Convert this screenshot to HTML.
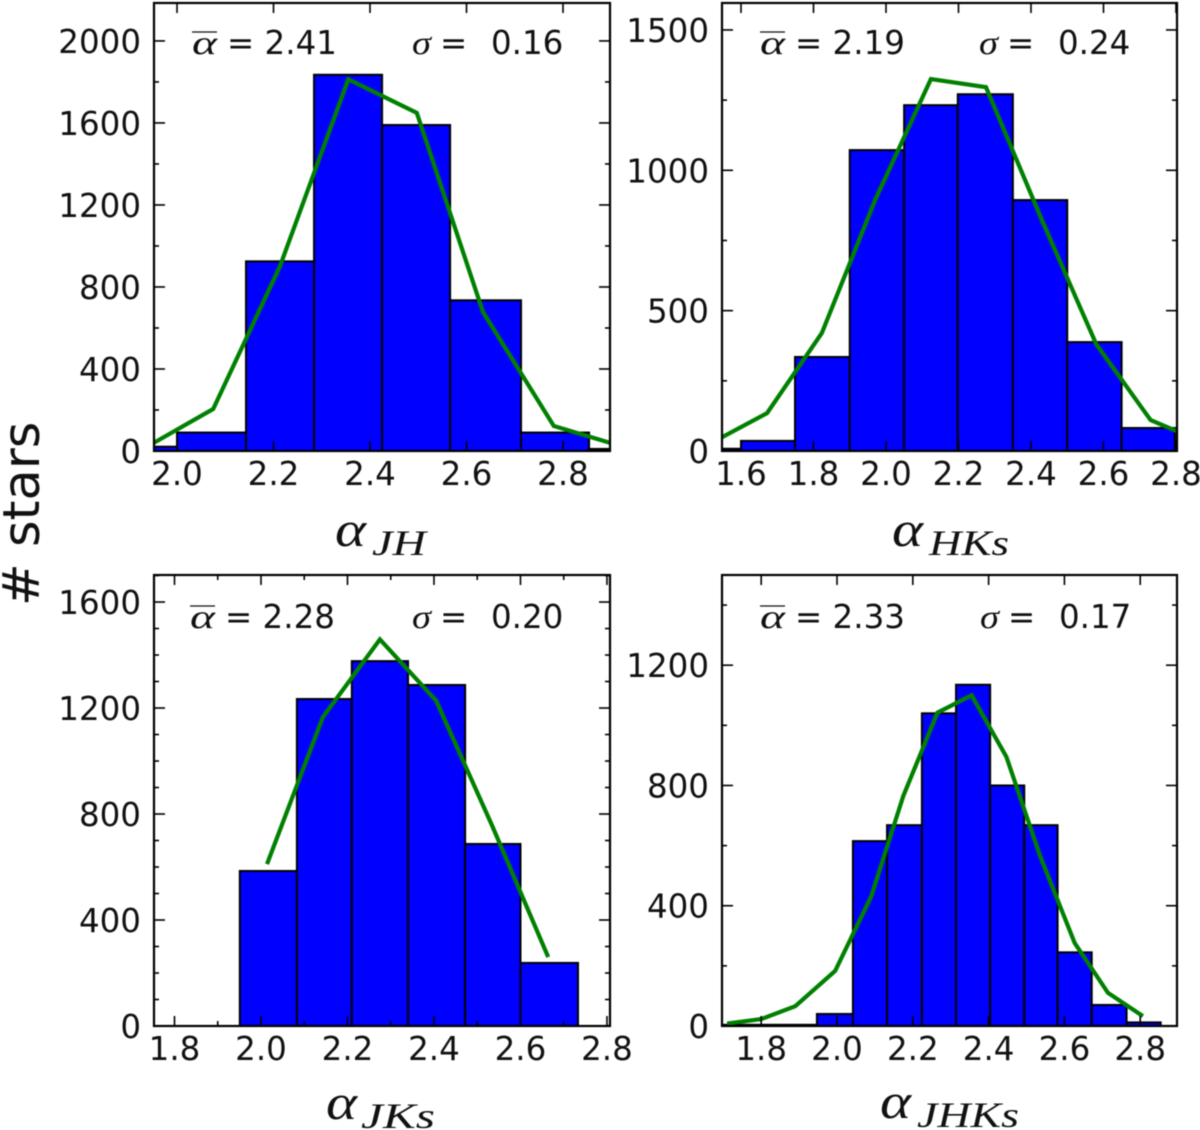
<!DOCTYPE html>
<html lang="en">
<head>
<meta charset="utf-8">
<title>Histograms of alpha by colour index</title>
<style>
html,body{margin:0;padding:0;background:#fff;}
body{width:1200px;height:1130px;overflow:hidden;}
svg{display:block;filter:blur(0.55px);}
text{font-family:"DejaVu Sans","Liberation Sans",sans-serif;fill:#111;}
.serif{font-family:"Liberation Serif","DejaVu Serif",serif;font-style:italic;}
</style>
</head>
<body>
<svg id="chart" xmlns="http://www.w3.org/2000/svg" width="1200" height="1130" viewBox="0 0 1200 1130">
  <text transform="translate(39,606) rotate(-90)" font-size="51">#&#160;stars</text>
</svg>
<script>
// ---- Panel JH ----
const jhEdges = [1.857, 2.0, 2.143, 2.284, 2.425, 2.566, 2.713, 2.854, 2.99];
const jhCounts = [21, 90, 925, 1835, 1590, 735, 90, 10];
const jhFitX = [1.93, 2.075, 2.213, 2.355, 2.497, 2.634, 2.781, 2.926];
const jhFitY = [10, 205, 899, 1813, 1649, 679, 122, 20];
const jhXTicks = ['2.0', '2.2', '2.4', '2.6', '2.8'];
const jhYTicks = [0, 400, 800, 1200, 1600, 2000];
// ---- Panel HKs ----
const hkEdges = [1.46, 1.6, 1.749, 1.9, 2.05, 2.198, 2.35, 2.5, 2.65, 2.797];
const hkCounts = [8, 36, 335, 1072, 1232, 1271, 894, 388, 82];
const hkFitX = [1.52, 1.672, 1.823, 1.97, 2.124, 2.276, 2.43, 2.58, 2.73, 2.88];
const hkFitY = [30, 135, 420, 894, 1325, 1296, 823, 381, 110, 28];
const hkXTicks = ['1.6', '1.8', '2.0', '2.2', '2.4', '2.6', '2.8'];
const hkYTicks = [0, 500, 1000, 1500];
// ---- Panel JKs ----
const jkEdges = [1.951, 2.083, 2.21, 2.34, 2.472, 2.6, 2.733];
const jkCounts = [585, 1234, 1377, 1287, 687, 238];
const jkFitX = [2.014, 2.143, 2.275, 2.405, 2.534, 2.664];
const jkFitY = [611, 1165, 1459, 1228, 758, 260];
const jkXTicks = ['1.8', '2.0', '2.2', '2.4', '2.6', '2.8'];
const jkYTicks = [0, 400, 800, 1200, 1600];
// ---- Panel JHKs ----
const jhkEdges = [1.69, 1.947, 2.042, 2.132, 2.224, 2.314, 2.404, 2.494, 2.582, 2.672, 2.764, 2.854];
const jhkCounts = [4, 40, 615, 668, 1040, 1135, 800, 668, 245, 70, 12];
const jhkFitX = [1.71, 1.8, 1.89, 1.995, 2.09, 2.175, 2.265, 2.355, 2.447, 2.537, 2.627, 2.715, 2.807];
const jhkFitY = [8, 23, 66, 183, 430, 765, 1042, 1100, 895, 562, 276, 110, 33];
const jhkXTicks = ['1.8', '2.0', '2.2', '2.4', '2.6', '2.8'];
const jhkYTicks = [0, 400, 800, 1200];

const NS = 'http://www.w3.org/2000/svg';
const svg = document.getElementById('chart');
const LABEL_SIZE = 32.5;

function mk(tag, attrs, parent) {
  const el = document.createElementNS(NS, tag);
  for (const k in attrs) el.setAttribute(k, attrs[k]);
  parent.appendChild(el);
  return el;
}

function drawPanel(p) {
  const sx = v => p.left + (v - p.xMin) / (p.xMax - p.xMin) * (p.right - p.left);
  const sy = v => p.bottom - v / p.yMax * (p.bottom - p.top);

  const g = mk('g', {}, svg);
  
  

  const clip = mk('clipPath', { id: 'clip-' + p.id }, g);
  mk('rect', { x: p.left, y: p.top, width: p.right - p.left, height: p.bottom - p.top }, clip);

  const plot = mk('g', { 'clip-path': 'url(#clip-' + p.id + ')' }, g);

  p.counts.forEach((c, i) => {
    const x0 = sx(p.edges[i]);
    const x1 = sx(p.edges[i + 1]);
    const y = sy(c);
    const bar = mk('rect', { x: x0, y: y, width: x1 - x0, height: p.bottom - y, fill: '#0000ff', stroke: '#000', 'stroke-width': 2 }, plot);
    
    
  });

  // ticks, drawn inward on all four sides
  const tick = (x1, y1, x2, y2, name) => {
    const t = mk('line', { x1: x1, y1: y1, x2: x2, y2: y2, stroke: '#000', 'stroke-width': 1.6 }, g);
    
    
  };
  const yStep = p.yTicks[1] - p.yTicks[0];
  for (let v = 0; v < p.yMax; v += p.yMinor) {
    const y = sy(v);
    const len = (v % yStep === 0) ? 11 : 5;
    tick(p.left, y, p.left + len, y, 'y-tick-left-' + p.id);
    tick(p.right, y, p.right - len, y, 'y-tick-right-' + p.id);
  }
  const xFirst = parseFloat(p.xTicks[0]);
  for (let k = 0; k < p.xTicks.length * (p.xMinor ? 2 : 1); k++) {
    const v = xFirst + k * (p.xMinor ? 0.1 : 0.2);
    if (v > p.xMax + 1e-6) break;
    const x = sx(v);
    const len = (p.xMinor && k % 2 === 1) ? 5 : 10;
    tick(x, p.bottom, x, p.bottom - len, 'x-tick-bottom-' + p.id);
    tick(x, p.top, x, p.top + len, 'x-tick-top-' + p.id);
  }

  const pts = p.fitX.map((x, i) => sx(x).toFixed(1) + ',' + sy(p.fitY[i]).toFixed(1)).join(' ');
  const fit = mk('polyline', { points: pts, fill: 'none', stroke: '#008000', 'stroke-width': 4.2, 'stroke-linejoin': 'miter' }, plot);
  
  

  const frame = mk('rect', { x: p.left, y: p.top, width: p.right - p.left, height: p.bottom - p.top, fill: 'none', stroke: '#000', 'stroke-width': 2.2 }, g);
  
  

  // tick labels
  p.xTicks.forEach(label => {
    const t = mk('text', { x: sx(parseFloat(label)), y: p.bottom + 34, 'font-size': LABEL_SIZE, 'text-anchor': 'middle' }, g);
    t.textContent = label;
    
    
  });
  p.yTicks.forEach(v => {
    const t = mk('text', { x: p.left - 13, y: sy(v) + 12, 'font-size': LABEL_SIZE, 'text-anchor': 'end' }, g);
    t.textContent = String(v);
    
    
  });

  // annotations
  const base = p.top + p.noteY;
  const aSym = mk('text', { x: p.noteA, y: base, 'font-size': 34, class: 'serif', textLength: 25, lengthAdjust: 'spacingAndGlyphs' }, g);
  aSym.textContent = 'α';
  
  
  const bar = mk('line', { x1: p.noteA, x2: p.noteA + 25, y1: base - 22, y2: base - 22, stroke: '#111', 'stroke-width': 1.3 }, g);
  
  
  const aVal = mk('text', { x: p.noteA + 35, y: base, 'font-size': LABEL_SIZE, 'xml:space': 'preserve' }, g);
  aVal.textContent = '= ' + p.mean;
  
  
  const sSym = mk('text', { x: p.noteS, y: base, 'font-size': 34, class: 'serif', textLength: 19, lengthAdjust: 'spacingAndGlyphs' }, g);
  sSym.textContent = 'σ';
  
  
  const sEq = mk('text', { x: p.noteS + 28, y: base, 'font-size': LABEL_SIZE }, g);
  sEq.textContent = '=';
  
  
  const sVal = mk('text', { x: p.noteS + 79, y: base, 'font-size': LABEL_SIZE }, g);
  sVal.textContent = p.sigma;
  
  

  // x axis title
  const title = mk('text', { x: p.titleX, y: p.titleY, 'font-size': 50, class: 'serif', textLength: 31, lengthAdjust: 'spacingAndGlyphs' }, g);
  title.textContent = 'α';
  
  
  const sub = mk('text', { x: p.titleX + p.subDx, y: p.titleY + 9, 'font-size': 36, class: 'serif', textLength: p.subW, lengthAdjust: 'spacingAndGlyphs' }, g);
  sub.textContent = p.sub;
  
  
}

drawPanel({ id: 'jh', left: 154, right: 610, top: 3, bottom: 451,
  xMin: 1.9523, xMax: 2.8974, yMax: 2185, yMinor: 200, xMinor: false,
  edges: jhEdges, counts: jhCounts, fitX: jhFitX, fitY: jhFitY, xTicks: jhXTicks, yTicks: jhYTicks,
  mean: '2.41', sigma: '0.16', noteA: 192, noteS: 412, noteY: 51,
  sub: 'JH', titleX: 335, titleY: 546, subDx: 37, subW: 54 });

drawPanel({ id: 'hks', left: 722, right: 1177, top: 3, bottom: 451,
  xMin: 1.5476, xMax: 2.8028, yMax: 1596, yMinor: 250, xMinor: false,
  edges: hkEdges, counts: hkCounts, fitX: hkFitX, fitY: hkFitY, xTicks: hkXTicks, yTicks: hkYTicks,
  mean: '2.19', sigma: '0.24', noteA: 760, noteS: 979, noteY: 51,
  sub: 'HKs', titleX: 892, titleY: 546, subDx: 37, subW: 80 });

drawPanel({ id: 'jks', left: 154, right: 610, top: 575, bottom: 1026,
  xMin: 1.7526, xMax: 2.807, yMax: 1702, yMinor: 100, xMinor: true,
  edges: jkEdges, counts: jkCounts, fitX: jkFitX, fitY: jkFitY, xTicks: jkXTicks, yTicks: jkYTicks,
  mean: '2.28', sigma: '0.20', noteA: 190, noteS: 412, noteY: 53,
  sub: 'JKs', titleX: 326, titleY: 1119, subDx: 35, subW: 74 });

drawPanel({ id: 'jhks', left: 722, right: 1177, top: 575, bottom: 1026,
  xMin: 1.6966, xMax: 2.897, yMax: 1500, yMinor: 200, xMinor: false,
  edges: jhkEdges, counts: jhkCounts, fitX: jhkFitX, fitY: jhkFitY, xTicks: jhkXTicks, yTicks: jhkYTicks,
  mean: '2.33', sigma: '0.17', noteA: 760, noteS: 980, noteY: 53,
  sub: 'JHKs', titleX: 880, titleY: 1118, subDx: 37, subW: 102 });
</script>
</body>
</html>
